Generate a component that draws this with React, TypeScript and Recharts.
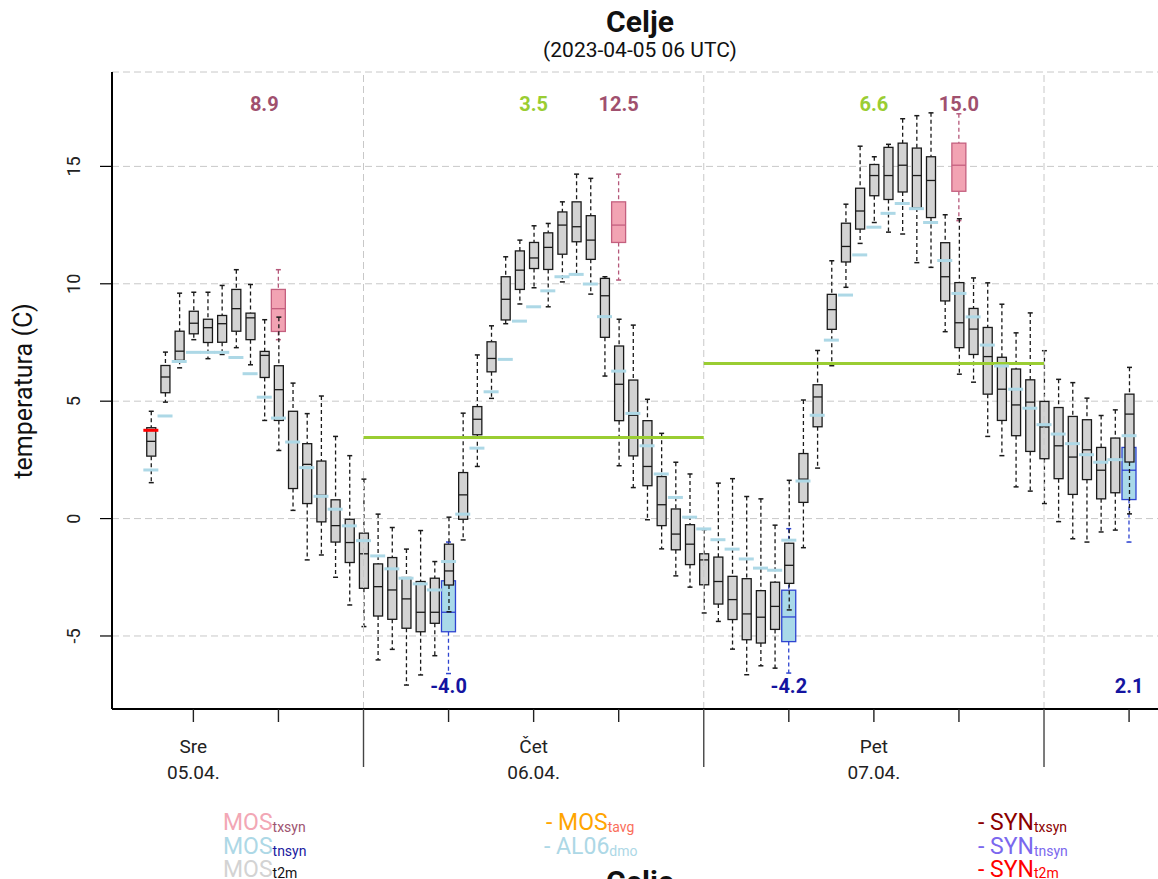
import React from "react";
import {
  ComposedChart,
  Bar,
  Scatter,
  XAxis,
  YAxis,
  CartesianGrid,
  ReferenceLine,
} from "recharts";

const FONT = "Roboto, 'Liberation Sans', sans-serif";

// forecast hours, counted from 2023-04-05 00 UTC
const t2mHours = [
  9, 10, 11, 12, 13, 14, 15, 16, 17, 18, 19, 20, 21, 22, 23,
  24, 25, 26, 27, 28, 29, 30, 31, 32, 33, 34, 35, 36, 37, 38, 39, 40, 41, 42, 43, 44, 45, 46, 47,
  48, 49, 50, 51, 52, 53, 54, 55, 56, 57, 58, 59, 60, 61, 62, 63, 64, 65, 66, 67, 68, 69, 70, 71,
  72, 73, 74, 75, 76, 77, 78,
];

// MOS t2m ensemble: [min, q1, median, q3, max]
const t2mBoxes = [
  [1.53, 2.66, 3.29, 3.87, 4.57],
  [4.96, 5.36, 6.03, 6.52, 7.09],
  [6.42, 6.74, 7.13, 7.98, 9.6],
  [7.62, 7.87, 8.32, 8.83, 9.64],
  [6.81, 7.5, 8.13, 8.49, 9.64],
  [6.99, 7.51, 8.3, 8.65, 9.93],
  [7.28, 7.98, 8.94, 9.76, 10.6],
  [6.55, 7.62, 8.55, 8.75, 9.97],
  [4.18, 6.01, 6.95, 7.12, 8.47],
  [2.9, 4.18, 5.49, 6.51, 8.58],
  [0.35, 1.28, 3.26, 4.57, 5.77],
  [-1.76, 0.64, 2.31, 3.19, 4.47],
  [-1.55, -0.14, 0.99, 2.45, 5.22],
  [-2.5, -1.0, -0.3, 0.8, 3.5],
  [-3.68, -1.87, -1.02, -0.03, 2.68],
  [-4.6, -2.97, -1.5, -0.62, 1.68],
  [-6.02, -4.15, -2.9, -1.93, 0.19],
  [-5.57, -4.29, -3.04, -1.66, -0.38],
  [-7.09, -4.67, -3.42, -2.51, -1.3],
  [-6.66, -4.82, -3.99, -2.68, -0.51],
  [-5.84, -4.46, -3.99, -2.54, -1.83],
  [-3.97, -2.83, -2.23, -1.09, 0.06],
  [-0.91, -0.03, 1.01, 1.96, 4.49],
  [2.22, 3.57, 4.23, 4.77, 6.97],
  [5.12, 6.25, 6.82, 7.53, 8.21],
  [8.3, 8.46, 9.34, 10.3, 11.15],
  [9.14, 9.76, 10.58, 11.4, 11.86],
  [9.83, 10.65, 11.1, 11.76, 12.47],
  [9.02, 10.61, 11.55, 12.17, 12.57],
  [10.08, 11.26, 12.5, 13.06, 13.49],
  [10.4, 11.79, 12.43, 13.49, 14.67],
  [9.56, 11.04, 11.86, 12.9, 14.49],
  [6.07, 7.72, 9.49, 10.23, 10.3],
  [2.25, 4.17, 5.72, 7.35, 8.49],
  [1.32, 2.67, 4.4, 5.9, 8.24],
  [-0.05, 1.4, 2.22, 4.17, 5.08],
  [-1.29, -0.3, 0.59, 1.79, 3.63],
  [-2.44, -1.33, -0.66, 0.41, 2.4],
  [-2.92, -1.96, -1.09, -0.26, 1.9],
  [-4.02, -2.82, -1.76, -1.5, -0.47],
  [-4.38, -3.64, -2.68, -1.64, 1.51],
  [-5.56, -4.3, -3.45, -2.46, 1.7],
  [-6.65, -5.16, -4.06, -2.56, 0.94],
  [-6.27, -5.3, -4.2, -3.07, 0.84],
  [-6.37, -4.72, -3.74, -2.71, -0.28],
  [-3.89, -2.76, -1.99, -1.05, 1.63],
  [-1.24, 0.69, 1.68, 2.77, 5.05],
  [2.15, 3.91, 5.18, 5.7, 7.16],
  [6.51, 8.06, 8.9, 9.55, 10.98],
  [9.85, 10.93, 11.59, 12.58, 13.39],
  [11.72, 12.33, 13.1, 14.07, 15.86],
  [12.61, 13.75, 14.61, 15.08, 15.41],
  [12.2, 13.59, 14.61, 15.81, 15.94],
  [12.12, 13.91, 15.05, 15.99, 17.03],
  [10.9, 13.23, 14.61, 15.78, 17.16],
  [10.7, 12.82, 14.4, 15.41, 17.28],
  [7.96, 9.27, 10.3, 11.75, 12.94],
  [6.15, 7.28, 8.34, 10.05, 12.77],
  [5.81, 6.99, 8.07, 8.95, 10.25],
  [3.5, 5.3, 6.9, 8.14, 10.04],
  [2.68, 4.18, 5.51, 6.87, 9.13],
  [1.35, 3.53, 4.84, 6.37, 7.91],
  [1.17, 2.86, 4.96, 5.91, 8.76],
  [0.64, 2.55, 3.9, 4.99, 7.15],
  [-0.13, 1.7, 3.1, 4.73, 5.93],
  [-0.86, 1.03, 2.62, 4.35, 5.79],
  [-1.0, 1.66, 2.93, 4.21, 5.13],
  [-0.57, 0.84, 2.06, 3.03, 4.39],
  [-0.49, 1.1, 2.51, 3.43, 4.63],
  [0.2, 2.41, 4.45, 5.3, 6.44],
];

// AL06 dmo, one value per t2m hour
const dmoValues = [
  2.07, 4.37, 6.69, 7.08, 7.08, 7.08, 6.86, 6.17, 5.17, 4.28, 3.26, 2.17, 0.95, 0.4, -0.31,
  -0.94, -1.59, -2.14, -2.54, -2.78, -3.04, -1.83, 0.19, 3.0, 5.4, 6.78, 8.41, 9.02, 9.7, 10.3,
  10.4, 9.99, 8.6, 6.28, 4.48, 3.1, 1.9, 0.9, 0.06,
  -0.44, -0.9, -1.3, -1.72, -2.11, -2.2, -0.92, 1.6, 4.4, 7.6, 9.52, 11.23, 12.41, 13.0, 13.42,
  13.2, 12.61, 10.99, 9.59, 8.59, 7.39, 6.5, 5.51, 4.7,
  4.0, 3.6, 3.19, 2.72, 2.4, 2.51, 3.53,
];

const txsynHours = [18, 42, 66];
const txsynBoxes = [
  [7.62, 7.97, 8.94, 9.76, 10.6],
  [10.16, 11.76, 12.5, 13.49, 14.67],
  [12.69, 13.94, 15.05, 15.99, 17.24],
];

const tnsynHours = [30, 54, 78];
const tnsynBoxes = [
  [-6.6, -4.82, -3.99, -2.65, -1.0],
  [-6.58, -5.24, -4.19, -3.05, -0.43],
  [-1.0, 0.81, 2.06, 3.03, 3.5],
];

const obsHours = [9];
const obsValues = [3.76];

const avgFrom = [24, 48];
const avgTo = [48, 72];
const avgValues = [3.45, 6.6];
const avgLabelHours = [36, 60];
const avgLabels = ["3.5", "6.6"];

const maxLabelHours = [17, 42, 66];
const maxLabels = ["8.9", "12.5", "15.0"];
const minLabelHours = [30, 54, 78];
const minLabels = ["-4.0", "-4.2", "2.1"];

const xTicks = [12, 18, 24, 30, 36, 42, 48, 54, 60, 66, 72, 78];
const midnightHours = [24, 48, 72];
const dayTickHours = [12, 36, 60];
const dayNames = ["Sre", "Čet", "Pet"];
const dayDates = ["05.04.", "06.04.", "07.04."];
const yTicks = [-5, 0, 5, 10, 15];

const rows = t2mHours.map((h, i) => {
  const ix = txsynHours.indexOf(h);
  const in_ = tnsynHours.indexOf(h);
  return {
    h,
    t2m: t2mBoxes[i],
    mx: ix >= 0 ? txsynBoxes[ix] : null,
    mn: in_ >= 0 ? tnsynBoxes[in_] : null,
  };
});
const dmoData = t2mHours.map((h, i) => ({ h, v: dmoValues[i] }));
const obsData = obsHours.map((h, i) => ({ h, v: obsValues[i] }));

const iqr = (key: string) => (r: any) => {
  const s = r && r[key];
  return s ? [s[1], s[3]] : null;
};

type BoxStyle = { width: number; fill: string; stroke: string; whisker: string };
const GRAY: BoxStyle = { width: 9, fill: "#D3D3D3", stroke: "#1a1a1a", whisker: "#1a1a1a" };
const PINK: BoxStyle = { width: 14, fill: "#F2A3B3", stroke: "#C4607F", whisker: "#B5587A" };
const BLUE: BoxStyle = { width: 14, fill: "#A9D9E9", stroke: "#2E44D0", whisker: "#2E44D0" };

// the bar gives the q1..q3 rectangle; the rest is scaled from it
function drawBox(p: any, key: string, st: BoxStyle) {
  const s = p && p.payload && p.payload[key];
  if (!s || !Number.isFinite(p.y) || !Number.isFinite(p.height) || !p.height) return <g />;
  const [lo, q1, med, q3, hi] = s;
  const top = Math.min(p.y, p.y + p.height);
  const h = Math.abs(p.height);
  const k = h / (q3 - q1);
  const cx = p.x + p.width / 2;
  const yMed = top + (q3 - med) * k;
  const yHi = top - (hi - q3) * k;
  const yLo = top + h + (q1 - lo) * k;
  const half = st.width / 2;
  return (
    <g>
      <line x1={cx} x2={cx} y1={yHi} y2={top} stroke={st.whisker} strokeWidth={1.3} strokeDasharray="4 3" />
      <line x1={cx} x2={cx} y1={top + h} y2={yLo} stroke={st.whisker} strokeWidth={1.3} strokeDasharray="4 3" />
      <line x1={cx - 2.5} x2={cx + 2.5} y1={yHi} y2={yHi} stroke={st.whisker} strokeWidth={1.5} />
      <line x1={cx - 2.5} x2={cx + 2.5} y1={yLo} y2={yLo} stroke={st.whisker} strokeWidth={1.5} />
      <rect x={cx - half} y={top} width={st.width} height={h} fill={st.fill} stroke={st.stroke} strokeWidth={1.3} />
      <line x1={cx - half} x2={cx + half} y1={yMed} y2={yMed} stroke={st.stroke} strokeWidth={1.3} />
    </g>
  );
}

const dash = (color: string, w: number) => (p: any) =>
  p && Number.isFinite(p.cx) && Number.isFinite(p.cy) ? (
    <line x1={p.cx - w / 2} x2={p.cx + w / 2} y1={p.cy} y2={p.cy} stroke={color} strokeWidth={3} />
  ) : (
    <g />
  );

function HourTick(props: any) {
  const { x, y, payload } = props;
  const v = payload.value;
  const isMidnight = midnightHours.includes(v);
  const d = dayTickHours.indexOf(v);
  return (
    <g>
      <line x1={x} x2={x} y1={y} y2={y + (isMidnight ? 58 : 13)} stroke={isMidnight ? "#444" : "#222"} strokeWidth={1.4} />
      {d >= 0 && (
        <>
          <text x={x} y={y + 44} textAnchor="middle" fontSize={19} fill="#222" fontFamily={FONT}>
            {dayNames[d]}
          </text>
          <text x={x} y={y + 70} textAnchor="middle" fontSize={19} fill="#222" fontFamily={FONT}>
            {dayDates[d]}
          </text>
        </>
      )}
    </g>
  );
}

function ValueTick(props: any) {
  const { x, y, payload } = props;
  const cx = x - 26;
  return (
    <text
      x={cx}
      y={y}
      transform={`rotate(-90 ${cx} ${y})`}
      textAnchor="middle"
      dominantBaseline="central"
      fontSize={18}
      fill="#222"
      fontFamily={FONT}
    >
      {payload.value}
    </text>
  );
}

const labelStyle = (value: string, color: string, position: string, offset: number) => ({
  value,
  position,
  offset,
  fill: color,
  fontSize: 20,
  fontWeight: "bold",
  fontFamily: FONT,
});

function Overlay() {
  const sub = { fontSize: 14 };
  return (
    <svg
      width={1158}
      height={879}
      style={{ position: "absolute", left: 0, top: 0, pointerEvents: "none" }}
      fontFamily={FONT}
    >
      <text x={640} y={32} textAnchor="middle" fontSize={30} fontWeight="bold" fill="#111">
        Celje
      </text>
      <text x={640} y={57} textAnchor="middle" fontSize={21} fill="#111">
        (2023-04-05 06 UTC)
      </text>
      <text x={23} y={391} transform="rotate(-90 23 391)" textAnchor="middle" dominantBaseline="central" fontSize={25} fill="#111">
        temperatura (C)
      </text>

      <text x={223} y={830} fontSize={23}>
        <tspan fill="#F2A7B5">MOS</tspan>
        <tspan fill="#9E5470" dy={2} {...sub}>txsyn</tspan>
      </text>
      <text x={223} y={854} fontSize={23}>
        <tspan fill="#ADD8E6">MOS</tspan>
        <tspan fill="#1A1AA0" dy={2} {...sub}>tnsyn</tspan>
      </text>
      <text x={223} y={877} fontSize={23}>
        <tspan fill="#D3D3D3">MOS</tspan>
        <tspan fill="#111" dy={1} {...sub}>t2m</tspan>
      </text>

      <text x={546} y={830} fontSize={23}>
        <tspan fill="#FFA500">- MOS</tspan>
        <tspan fill="#FA6E5A" dy={2} {...sub}>tavg</tspan>
      </text>
      <text x={544} y={854} fontSize={23}>
        <tspan fill="#ADD8E6">- AL06</tspan>
        <tspan fill="#ADD8E6" dy={2} {...sub}>dmo</tspan>
      </text>

      <text x={978} y={830} fontSize={23}>
        <tspan fill="#8B0000">- SYN</tspan>
        <tspan fill="#8B0000" dy={2} {...sub}>txsyn</tspan>
      </text>
      <text x={978} y={854} fontSize={23}>
        <tspan fill="#7B68EE">- SYN</tspan>
        <tspan fill="#7B68EE" dy={2} {...sub}>tnsyn</tspan>
      </text>
      <text x={978} y={877} fontSize={23}>
        <tspan fill="#FF0000">- SYN</tspan>
        <tspan fill="#FF0000" dy={1} {...sub}>t2m</tspan>
      </text>

      <text x={640} y={892} textAnchor="middle" fontSize={30} fontWeight="bold" fill="#111">
        Celje
      </text>
    </svg>
  );
}

export default function App() {
  const domainX: [number, number] = [6.26, 80.04];
  return (
    <div style={{ position: "absolute", left: 0, top: 0, width: 1158, height: 879, overflow: "hidden", background: "#fff" }}>
      <ComposedChart
        width={1158}
        height={879}
        data={rows}
        margin={{ top: 72, right: 0, bottom: 110, left: 0 }}
      >
        <CartesianGrid xAxisId="t2m" vertical={false} stroke="#C8C8C8" strokeDasharray="7 4" />
        <XAxis
          xAxisId="t2m"
          dataKey="h"
          type="number"
          domain={domainX}
          allowDataOverflow
          ticks={xTicks}
          interval={0}
          tickSize={0}
          tickMargin={0}
          tickLine={false}
          axisLine={{ stroke: "#000", strokeWidth: 2 }}
          height={60}
          tick={<HourTick />}
        />
        <XAxis xAxisId="mx" dataKey="h" type="number" orientation="top" height={0} domain={domainX} allowDataOverflow hide />
        <XAxis xAxisId="mn" dataKey="h" type="number" orientation="top" height={0} domain={domainX} allowDataOverflow hide />
        <XAxis
          xAxisId="top"
          dataKey="h"
          type="number"
          orientation="top"
          domain={domainX}
          allowDataOverflow
          height={0}
          tick={false}
          tickLine={false}
          axisLine={{ stroke: "#000", strokeWidth: 2 }}
        />
        <YAxis
          type="number"
          domain={[-8.11, 19.02]}
          allowDataOverflow
          ticks={yTicks}
          interval={0}
          width={112}
          tickSize={12}
          tickMargin={0}
          tickLine={{ stroke: "#000", strokeWidth: 1.2 }}
          axisLine={{ stroke: "#000", strokeWidth: 2 }}
          tick={<ValueTick />}
        />

        {midnightHours.map((h) => (
          <ReferenceLine key={`g${h}`} xAxisId="t2m" x={h} stroke="#C8C8C8" strokeDasharray="7 4" />
        ))}
        {avgValues.map((v, i) => (
          <ReferenceLine
            key={`avg${i}`}
            xAxisId="t2m"
            segment={[
              { x: avgFrom[i], y: v },
              { x: avgTo[i], y: v },
            ]}
            stroke="#9ACD32"
            strokeWidth={3}
          />
        ))}

        <Scatter xAxisId="t2m" data={dmoData} dataKey="v" shape={dash("#ADD8E6", 15)} isAnimationActive={false} />

        <Bar
          xAxisId="mx"
          dataKey={iqr("mx")}
          barSize={14}
          shape={(p: any) => drawBox(p, "mx", PINK)}
          isAnimationActive={false}
        />
        <Bar
          xAxisId="mn"
          dataKey={iqr("mn")}
          barSize={14}
          shape={(p: any) => drawBox(p, "mn", BLUE)}
          isAnimationActive={false}
        />
        <Bar
          xAxisId="t2m"
          dataKey={iqr("t2m")}
          barSize={9}
          shape={(p: any) => drawBox(p, "t2m", GRAY)}
          isAnimationActive={false}
        />

        <Scatter xAxisId="t2m" data={obsData} dataKey="v" shape={dash("#FF0000", 15)} isAnimationActive={false} />

        {avgLabels.map((t, i) => (
          <ReferenceLine
            key={`al${i}`}
            xAxisId="t2m"
            x={avgLabelHours[i]}
            stroke="none"
            label={labelStyle(t, "#9ACD32", "insideTop", 25)}
          />
        ))}
        {maxLabels.map((t, i) => (
          <ReferenceLine
            key={`mxl${i}`}
            xAxisId="t2m"
            x={maxLabelHours[i]}
            stroke="none"
            label={labelStyle(t, "#A0506E", "insideTop", 25)}
          />
        ))}
        {minLabels.map((t, i) => (
          <ReferenceLine
            key={`mnl${i}`}
            xAxisId="t2m"
            x={minLabelHours[i]}
            stroke="none"
            label={labelStyle(t, "#1414A0", "insideBottom", 16)}
          />
        ))}
      </ComposedChart>
      <Overlay />
    </div>
  );
}
